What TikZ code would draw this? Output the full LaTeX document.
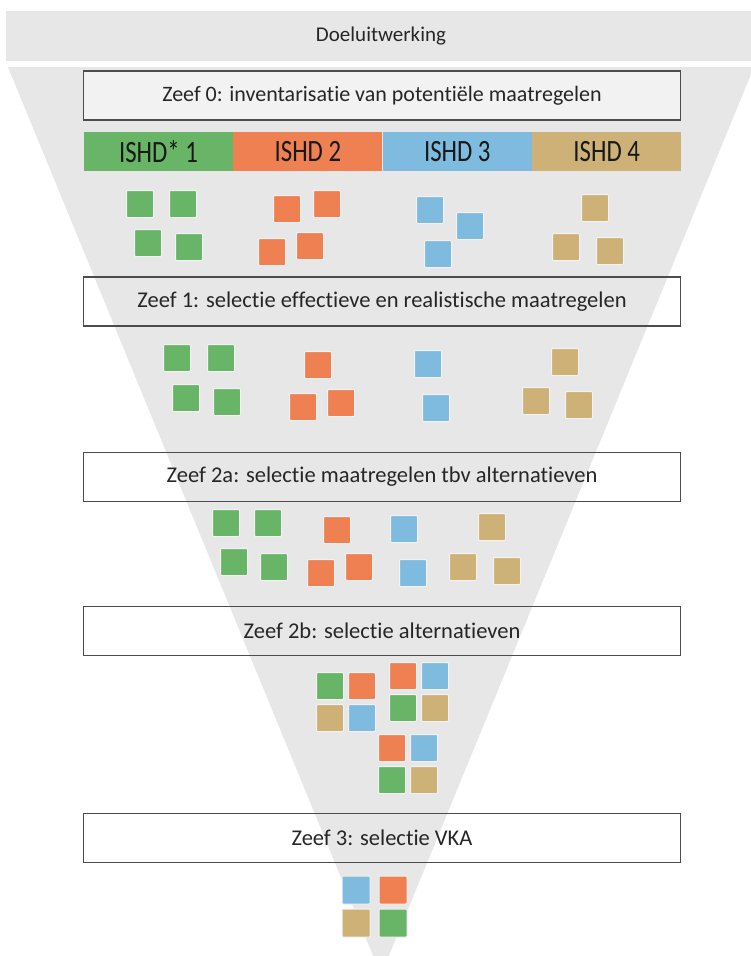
\documentclass[tikz,border=0pt]{standalone}
\usepackage{fontspec}
\setmainfont{Carlito}[Ligatures=NoCommon]
\usetikzlibrary{positioning}
\definecolor{zgreen}{RGB}{104,181,104}
\definecolor{zorange}{RGB}{239,128,82}
\definecolor{zblue}{RGB}{126,187,222}
\definecolor{ztan}{RGB}{205,177,118}
\definecolor{zgray}{RGB}{231,231,231}
\newcommand{\smal}[1]{\scalebox{0.8}[1]{#1}}
\tikzstyle{every node}=[font=\fontsize{22.5}{24}\selectfont, text=black!85]
\tikzstyle{zeef} = [rectangle, minimum width=597pt, minimum height=49pt, inner sep=0pt, text centered, draw=black!70, line width=1.6pt]
\tikzstyle{ishd} = [rectangle, minimum width=149pt, minimum height=39pt, inner sep=0pt, text=black!90, font=\fontsize{31}{32}\selectfont]
\tikzstyle{maat} = [rectangle, minimum size=27pt, inner sep=0pt, draw=white!90!gray, line width=1pt, rounded corners=1pt]
\tikzstyle{kwart} = [maat, minimum size=28pt]

\begin{document}
\begin{tikzpicture}[x=1pt, y=-1pt]
            \useasboundingbox (0,0) rectangle (751,956);
            % band en trechter
            \fill [zgray] (6,11) rectangle (751,61);
            \node (doel) [font=\fontsize{21}{23}\selectfont] at (381,36) {Doeluitwerking};
            \fill [zgray] (8,67) -- (754,67) -- (381,975) -- cycle;
            % zeven
            \node (zeef0) [zeef, fill=white!45!zgray, font=\fontsize{22}{24}\selectfont] at (382,95.5) {Zeef 0: inventarisatie van potentiële maatregelen};
            \node (zeef1) [zeef] at (382,301.5) {Zeef 1: selectie effectieve en realistische maatregelen};
            \node (zeef2a) [zeef] at (382,477) {Zeef 2a: selectie maatregelen tbv alternatieven};
            \node (zeef2b) [zeef] at (382,631) {Zeef 2b: selectie alternatieven};
            \node (zeef3) [zeef] at (382,838) {Zeef 3: selectie VKA};
            % ISHD balk
            \node (ishd1) [ishd, fill=zgreen] at (158.5,151.5) {\smal{ISHD* 1}};
            \node (ishd2) [ishd, fill=zorange, right=0pt of ishd1] {\smal{ISHD 2}};
            \node (ishd3) [ishd, fill=zblue, right=0pt of ishd2] {\smal{ISHD 3}};
            \node (ishd4) [ishd, fill=ztan, right=0pt of ishd3] {\smal{ISHD 4}};
            % maatregelen na zeef 0
            \node (g0a) [maat, fill=zgreen] at (140,204) {};
            \node (g0b) [maat, fill=zgreen] at (183,204) {};
            \node (g0c) [maat, fill=zgreen] at (148,243) {};
            \node (g0d) [maat, fill=zgreen] at (189,247) {};
            \node (o0a) [maat, fill=zorange] at (287,209) {};
            \node (o0b) [maat, fill=zorange] at (327,204) {};
            \node (o0c) [maat, fill=zorange] at (272,252) {};
            \node (o0d) [maat, fill=zorange] at (310,246) {};
            \node (b0a) [maat, fill=zblue] at (430,210) {};
            \node (b0b) [maat, fill=zblue] at (470,226) {};
            \node (b0c) [maat, fill=zblue] at (438,254) {};
            \node (t0a) [maat, fill=ztan] at (595,208) {};
            \node (t0b) [maat, fill=ztan] at (566,247) {};
            \node (t0c) [maat, fill=ztan] at (610,251) {};
            % na zeef 1
            \node (g1a) [maat, fill=zgreen] at (177,358) {};
            \node (g1b) [maat, fill=zgreen] at (221,358) {};
            \node (g1c) [maat, fill=zgreen] at (186,398) {};
            \node (g1d) [maat, fill=zgreen] at (227,402) {};
            \node (o1a) [maat, fill=zorange] at (318,365) {};
            \node (o1b) [maat, fill=zorange] at (303,407) {};
            \node (o1c) [maat, fill=zorange] at (341,403) {};
            \node (b1a) [maat, fill=zblue] at (428,364) {};
            \node (b1b) [maat, fill=zblue] at (436,408) {};
            \node (t1a) [maat, fill=ztan] at (565,362) {};
            \node (t1b) [maat, fill=ztan] at (536,401) {};
            \node (t1c) [maat, fill=ztan] at (579,405) {};
            % na zeef 2a
            \node (g2a) [maat, fill=zgreen] at (226,523) {};
            \node (g2b) [maat, fill=zgreen] at (268,523) {};
            \node (g2c) [maat, fill=zgreen] at (234,562) {};
            \node (g2d) [maat, fill=zgreen] at (274,567) {};
            \node (o2a) [maat, fill=zorange] at (337,530) {};
            \node (o2b) [maat, fill=zorange] at (321,573) {};
            \node (o2c) [maat, fill=zorange] at (359,567) {};
            \node (b2a) [maat, fill=zblue] at (404,529) {};
            \node (b2b) [maat, fill=zblue] at (413,573) {};
            \node (t2a) [maat, fill=ztan] at (492,527) {};
            \node (t2b) [maat, fill=ztan] at (463,567) {};
            \node (t2c) [maat, fill=ztan] at (507,571) {};
            % alternatieven na zeef 2b
            \node (alt1a) [maat, fill=zgreen] at (330,686) {};
            \node (alt1b) [maat, fill=zorange, right=4pt of alt1a] {};
            \node (alt1c) [maat, fill=ztan, below=4pt of alt1a] {};
            \node (alt1d) [maat, fill=zblue, below=4pt of alt1b] {};
            \node (alt2a) [maat, fill=zorange] at (403,676) {};
            \node (alt2b) [maat, fill=zblue, right=4pt of alt2a] {};
            \node (alt2c) [maat, fill=zgreen, below=4pt of alt2a] {};
            \node (alt2d) [maat, fill=ztan, below=4pt of alt2b] {};
            \node (alt3a) [maat, fill=zorange] at (392,748) {};
            \node (alt3b) [maat, fill=zblue, right=4pt of alt3a] {};
            \node (alt3c) [maat, fill=zgreen, below=4pt of alt3a] {};
            \node (alt3d) [maat, fill=ztan, below=4pt of alt3b] {};
            % VKA
            \node (vka1) [kwart, fill=zblue] at (356,890) {};
            \node (vka2) [kwart, fill=zorange, right=8pt of vka1] {};
            \node (vka3) [kwart, fill=ztan, below=4pt of vka1] {};
            \node (vka4) [kwart, fill=zgreen, below=4pt of vka2] {};
          \end{tikzpicture}
\end{document}
